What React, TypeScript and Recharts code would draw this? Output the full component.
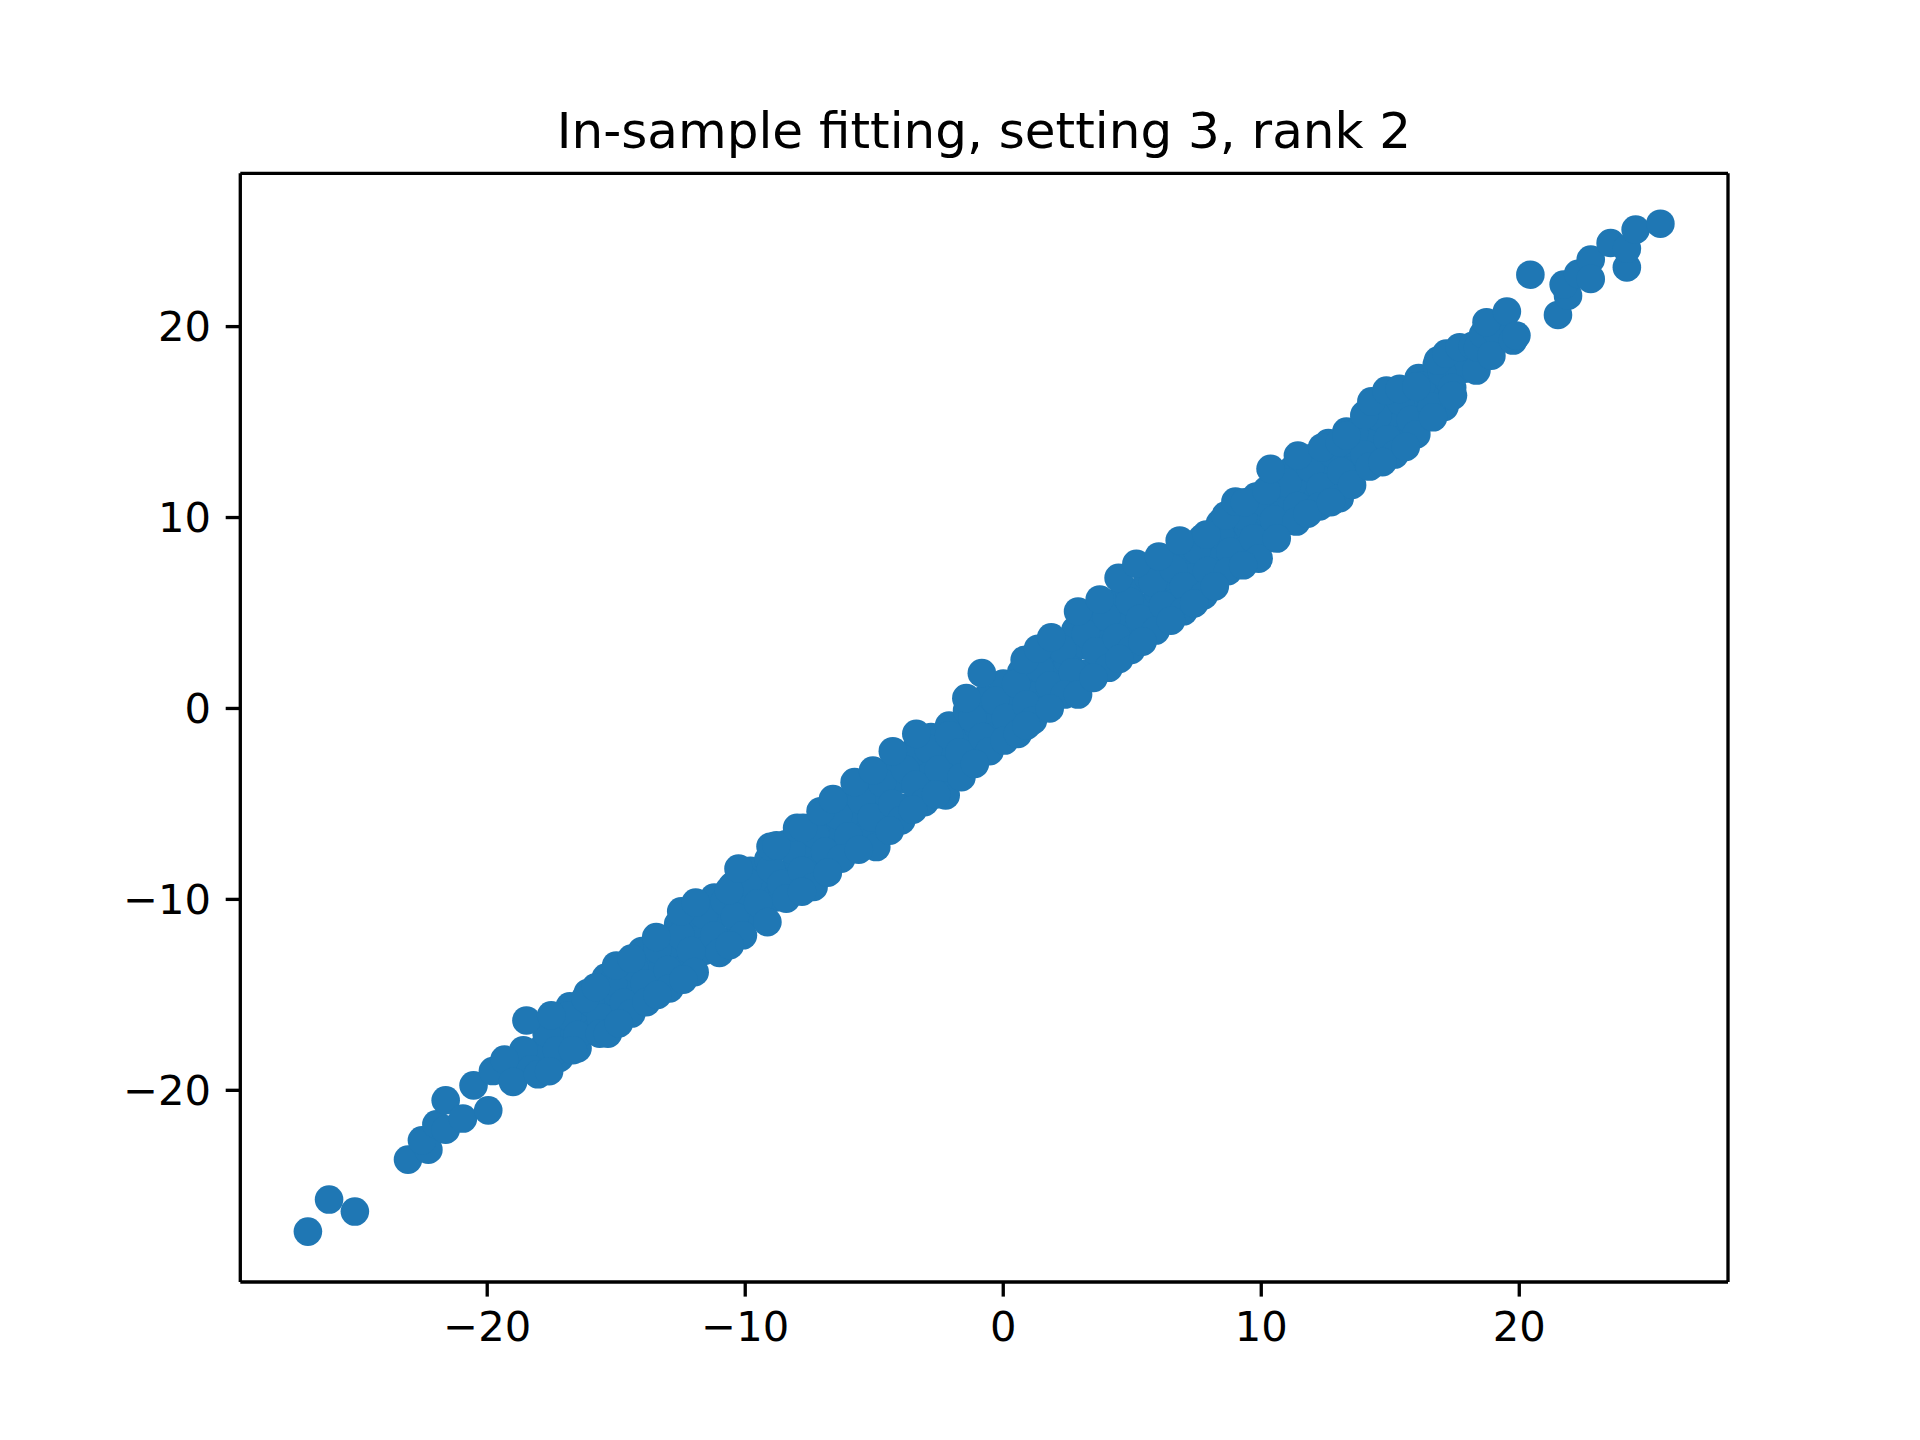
import { ScatterChart, Scatter, XAxis, YAxis, ReferenceLine } from "recharts"

// Values, in data units
const lowerTailX = [-26.95, -26.13, -25.13, -23.07, -22.28, -22.53, -21.97, -21.61, -21.61, -20.94, -20.53, -19.96, -19.78, -19.33, -19.0, -18.03]
const lowerTailY = [-27.4, -25.72, -26.35, -23.63, -23.11, -22.62, -21.78, -22.06, -20.52, -21.48, -19.74, -21.05, -18.99, -18.39, -19.56, -19.16]

const upperEdgeX = [-18.48, -17.52, -16.2, -15.79, -15.0, -14.41, -13.45, -12.48, -11.92, -10.63, -10.26, -9.02, -8.79, -7.99, -7.76, -7.08, -6.6, -5.76, -5.05, -4.28, -3.37, -1.43, -0.83, 0.83, 1.35, 1.86, 2.9, 3.74, 4.47, 5.16, 6.03, 6.84, 7.87, 8.62, 9.0, 9.36, 10.2, 10.36, 11.42, 12.36, 13.04, 13.3, 14.0, 14.27, 14.85, 15.36, 16.01, 16.85, 17.17, 17.69, 18.2]
const upperEdgeY = [-16.34, -16.07, -15.18, -14.6, -13.46, -13.1, -11.97, -10.63, -10.17, -9.53, -8.39, -7.23, -7.17, -6.25, -6.25, -5.38, -4.75, -3.86, -3.25, -2.24, -1.33, 0.54, 1.85, 2.55, 3.13, 3.73, 5.08, 5.71, 6.84, 7.58, 7.96, 8.8, 9.11, 10.1, 10.84, 10.8, 11.41, 12.55, 13.25, 13.67, 13.94, 14.3, 15.38, 16.09, 16.65, 16.74, 16.86, 18.22, 18.59, 18.92, 19.0]

const lowerEdgeX = [-16.68, -15.64, -15.32, -14.41, -13.83, -12.93, -11.96, -10.09, -9.14, -8.41, -7.35, -6.28, -4.92, -3.95, -3.05, -2.23, -1.62, -0.53, 0.05, 0.57, 1.15, 2.38, 2.9, 4.09, 4.96, 5.91, 6.99, 7.77, 8.71, 9.9, 11.36, 12.26, 13.04, 13.52, 14.2, 15.17, 16.01, 16.66, 17.43, 18.34]
const lowerEdgeY = [-17.9, -17.03, -17.03, -15.98, -15.38, -14.66, -13.81, -11.88, -11.19, -9.96, -9.35, -7.87, -7.26, -5.86, -4.91, -4.55, -3.6, -2.24, -1.68, -1.33, -0.63, 0.73, 0.73, 2.13, 3.07, 4.08, 5.09, 5.92, 7.19, 7.85, 9.79, 10.58, 11.01, 11.71, 12.67, 13.3, 14.35, 15.25, 16.39, 17.7]

// dots just inside the lower edge, between the bumps above
const lowerFillX = [-17.6, -14.9, -13.4, -12.4, -11.0, -10.6, -7.8, -6.8, -5.6, -4.4, -3.5, -2.6, -1.1, 0.9, 1.8, 3.5, 4.5, 5.4, 6.5, 7.4, 8.2, 9.3, 10.6, 11.8, 12.7, 14.7, 15.6]
const lowerFillY = [-19.0, -16.5, -15.0, -14.2, -12.8, -12.4, -9.6, -8.6, -7.4, -6.4, -5.3, -4.5, -2.9, -0.9, 0.0, 1.6, 2.6, 3.5, 4.6, 5.5, 6.4, 7.5, 8.9, 10.2, 10.8, 12.9, 13.7]

const coreUpperX = [-18.6, -17.7, -16.9, -16.0, -15.1, -14.3, -13.4, -12.5, -11.6, -10.8, -9.9, -9.0, -8.2, -7.3, -6.4, -5.5, -4.7, -3.8, -2.9, -2.1, -1.2, -0.3, 0.5, 1.4, 2.3, 3.2, 4.0, 4.9, 5.8, 6.6, 7.5, 8.4, 9.3, 10.1, 11.0, 11.9, 12.7, 13.6, 14.5, 15.4, 16.2, 17.0]
const coreUpperY = [-17.9, -17.0, -16.1, -15.4, -14.3, -13.6, -12.6, -11.9, -10.8, -10.1, -9.1, -8.4, -7.4, -6.6, -5.6, -4.8, -3.9, -3.2, -2.1, -1.4, -0.5, 0.4, 1.3, 2.1, 3.1, 3.9, 4.8, 5.6, 6.6, 7.3, 8.3, 9.1, 10.1, 10.8, 11.8, 12.6, 13.4, 14.4, 15.3, 16.1, 16.9, 17.6]
const coreLowerX = [-18.3, -17.3, -16.5, -15.6, -14.7, -13.9, -13.0, -12.1, -11.2, -10.4, -9.5, -8.6, -7.8, -6.9, -6.0, -5.1, -4.3, -3.4, -2.5, -1.7, -0.8, 0.1, 0.9, 1.8, 2.7, 3.6, 4.4, 5.3, 6.2, 7.0, 7.9, 8.8, 9.7, 10.5, 11.4, 12.3, 13.1, 14.0, 14.9, 15.8, 16.6, 17.4]
const coreLowerY = [-18.9, -17.9, -17.1, -16.2, -15.4, -14.4, -13.7, -12.7, -11.9, -10.9, -10.2, -9.2, -8.5, -7.5, -6.7, -5.7, -5.0, -4.0, -3.2, -2.3, -1.5, -0.5, 0.2, 1.2, 1.9, 3.0, 3.7, 4.7, 5.4, 6.4, 7.2, 8.2, 8.9, 9.9, 10.6, 11.6, 12.4, 13.3, 14.1, 15.1, 15.8, 16.8]

// the solid body of the band, where single dots can't be told apart
const bandMidX = [-19.2, -18.5, -17.8, -17.1, -16.4, -15.7, -15.0, -14.3, -13.6, -12.9, -12.2, -11.5, -10.8, -10.1, -9.4, -8.7, -8.0, -7.3, -6.6, -5.9, -5.2, -4.5, -3.8, -3.1, -2.4, -1.7, -1.0, -0.3, 0.4, 1.1, 1.8, 2.5, 3.2, 3.9, 4.6, 5.3, 6.0, 6.7, 7.4, 8.1, 8.8, 9.5, 10.2, 10.9, 11.6, 12.3, 13.0, 13.7, 14.4, 15.1, 15.8, 16.5, 17.2, 17.9]
const bandMidY = [-19.1, -18.5, -17.7, -17.1, -16.3, -15.7, -14.9, -14.4, -13.5, -12.9, -12.1, -11.6, -10.7, -10.1, -9.3, -8.8, -7.9, -7.3, -6.5, -6.0, -5.1, -4.5, -3.7, -3.2, -2.3, -1.7, -0.9, -0.4, 0.5, 1.1, 1.9, 2.5, 3.3, 3.9, 4.7, 5.3, 6.1, 6.7, 7.5, 8.0, 8.9, 9.5, 10.3, 10.9, 11.7, 12.3, 13.1, 13.7, 14.5, 15.1, 15.9, 16.5, 17.3, 17.8]
const bandHighX = [-17.5, -16.8, -16.1, -15.4, -14.7, -14.0, -13.3, -12.6, -11.9, -11.2, -10.5, -9.8, -9.1, -8.4, -7.7, -7.0, -6.3, -5.6, -4.9, -4.2, -3.5, -2.8, -2.1, -1.4, -0.7, 0.0, 0.7, 1.4, 2.1, 2.8, 3.5, 4.2, 4.9, 5.6, 6.3, 7.0, 7.7, 8.4, 9.1, 9.8, 10.5, 11.2, 11.9, 12.6, 13.3, 14.0, 14.7, 15.4, 16.1, 16.8]
const bandHighY = [-16.3, -15.6, -14.9, -14.1, -13.5, -12.7, -12.1, -11.3, -10.7, -9.9, -9.3, -8.5, -7.9, -7.1, -6.5, -5.7, -5.1, -4.3, -3.7, -2.9, -2.3, -1.5, -0.9, -0.1, 0.5, 1.3, 1.9, 2.7, 3.3, 4.1, 4.7, 5.5, 6.1, 6.9, 7.5, 8.3, 8.9, 9.7, 10.3, 11.1, 11.7, 12.5, 13.1, 13.9, 14.5, 15.3, 16.0, 16.6, 17.3, 18.0]
const bandLowX = [-17.2, -16.5, -15.8, -15.1, -14.4, -13.7, -13.0, -12.3, -11.6, -10.9, -10.2, -9.5, -8.8, -8.1, -7.4, -6.7, -6.0, -5.3, -4.6, -3.9, -3.2, -2.5, -1.8, -1.1, -0.4, 0.3, 1.0, 1.7, 2.4, 3.1, 3.8, 4.5, 5.2, 5.9, 6.6, 7.3, 8.0, 8.7, 9.4, 10.1, 10.8, 11.5, 12.2, 12.9, 13.6, 14.3, 15.0, 15.7, 16.4, 17.1]
const bandLowY = [-18.3, -17.8, -16.9, -16.4, -15.5, -15.0, -14.1, -13.6, -12.7, -12.2, -11.3, -10.8, -9.9, -9.4, -8.5, -8.0, -7.1, -6.6, -5.7, -5.2, -4.3, -3.8, -2.9, -2.4, -1.5, -1.0, -0.1, 0.4, 1.3, 1.8, 2.7, 3.2, 4.1, 4.6, 5.5, 6.0, 6.9, 7.4, 8.3, 8.8, 9.7, 10.2, 11.1, 11.6, 12.5, 13.0, 13.9, 14.4, 15.3, 15.8]

const upperTailX = [18.4, 18.6, 19.1, 18.73, 18.92, 19.52, 19.76, 19.89, 20.43, 21.5, 21.89, 21.72, 22.28, 22.77, 22.77, 23.54, 24.17, 24.17, 24.51, 25.47]
const upperTailY = [18.9, 19.6, 19.8, 20.23, 18.48, 20.79, 19.27, 19.53, 22.72, 20.61, 21.62, 22.2, 22.76, 23.51, 22.5, 24.38, 23.1, 24.08, 25.08, 25.39]

const xTicks = [-20, -10, 0, 10, 20]
const yTicks = [-20, -10, 0, 10, 20]
const xDomain = [-29.57, 28.09]
const yDomain = [-30.04, 28.03]

const toPoints = (xs: number[], ys: number[]) => xs.map((x, i) => ({ x, y: ys[i] }))

const points = [
  ...toPoints(bandMidX, bandMidY),
  ...toPoints(bandHighX, bandHighY),
  ...toPoints(bandLowX, bandLowY),
  ...toPoints(coreUpperX, coreUpperY),
  ...toPoints(coreLowerX, coreLowerY),
  ...toPoints(lowerTailX, lowerTailY),
  ...toPoints(upperEdgeX, upperEdgeY),
  ...toPoints(lowerEdgeX, lowerEdgeY),
  ...toPoints(lowerFillX, lowerFillY),
  ...toPoints(upperTailX, upperTailY),
]

const font = "'DejaVu Sans'"
const tickStyle = { fontSize: 41.67, fontFamily: font, fill: "#000" }
const lineStyle = { stroke: "#000", strokeWidth: 3.33 }
const minus = (v: number) => String(v).replace("-", "\u2212")

const Dot = (props: any) => <circle cx={props.cx} cy={props.cy} r={14.3} fill="#1f77b4" />

export default function App() {
  return (
    <div style={{ position: "absolute", left: 0, top: 0, width: 1920, height: 1440, background: "#fff" }}>
      <ScatterChart
        width={1920}
        height={1440}
        margin={{ top: 173.3, right: 192, bottom: 0, left: 0 }}
      >
        <XAxis
          type="number"
          dataKey="x"
          domain={xDomain}
          ticks={xTicks}
          height={158}
          tick={tickStyle}
          tickSize={14.6}
          tickMargin={14.6}
          tickLine={lineStyle}
          axisLine={lineStyle}
          tickFormatter={minus}
          interval={0}
        />
        <YAxis
          type="number"
          dataKey="y"
          domain={yDomain}
          ticks={yTicks}
          width={240.3}
          tick={tickStyle}
          tickSize={14.6}
          tickMargin={14.6}
          tickLine={lineStyle}
          axisLine={lineStyle}
          tickFormatter={minus}
          interval={0}
        />
        {/* top and right spines */}
        <ReferenceLine x={xDomain[1]} stroke="#000" strokeWidth={3.33} />
        <ReferenceLine y={yDomain[1]} stroke="#000" strokeWidth={3.33} />
        <Scatter data={points} shape={Dot} isAnimationActive={false} />
        <text x={984} y={148} textAnchor="middle" fontSize={50} fontFamily={font} fill="#000">
          In-sample fitting, setting 3, rank 2
        </text>
      </ScatterChart>
    </div>
  )
}
